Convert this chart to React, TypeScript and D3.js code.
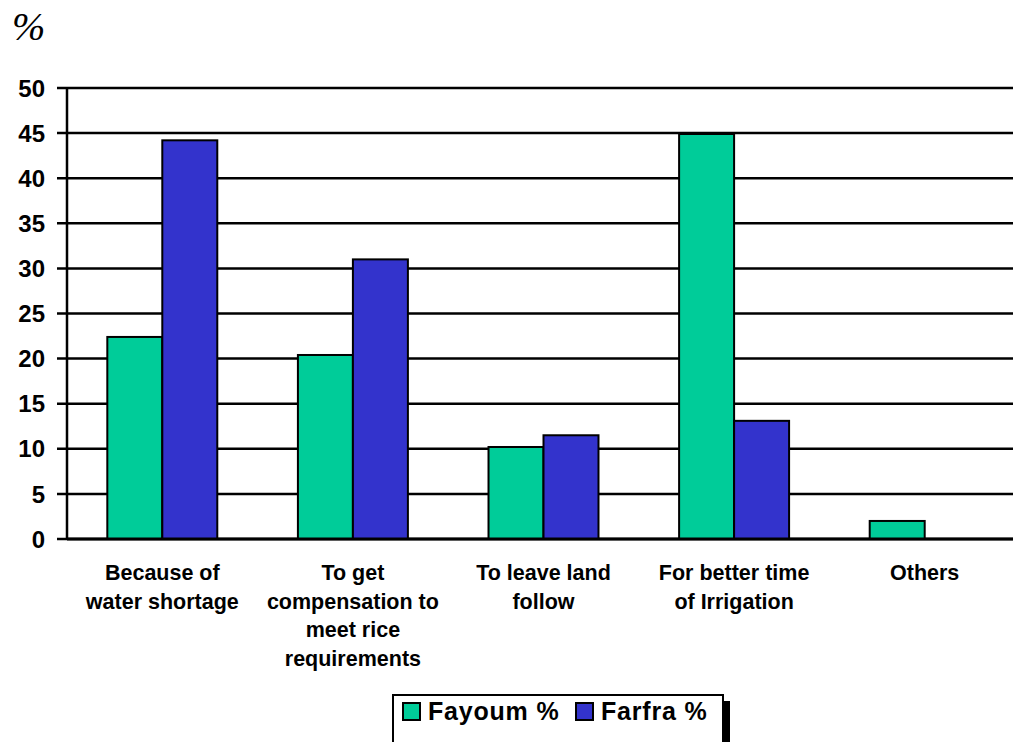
import React from "react";
import * as d3 from "d3";

const categories: string[][] = [
  ["Because of", "water shortage"],
  ["To get", "compensation to", "meet rice", "requirements"],
  ["To leave land", "follow"],
  ["For better time", "of Irrigation"],
  ["Others"],
];
const seriesNames = ["Fayoum %", "Farfra %"];
const fayoum = [22.4, 20.4, 10.2, 44.9, 2.0];
const farfra = [44.2, 31.0, 11.5, 13.1, 0];
const yTicks = [0, 5, 10, 15, 20, 25, 30, 35, 40, 45, 50];
const colors = ["#00CC99", "#3333CC"];

const W = 1013;
const H = 742;
const left = 67;
const right = 1020;
const top = 88;
const bottom = 539;

export default function App() {
  const x = d3
    .scaleBand<number>()
    .domain(categories.map((_, i) => i))
    .range([left, right]);
  const inner = d3
    .scaleBand<number>()
    .domain([0, 1])
    .range([0, x.bandwidth()])
    .paddingOuter(0.733)
    .paddingInner(0);
  const y = d3.scaleLinear().domain([0, 50]).range([bottom, top]);
  const series = [fayoum, farfra];
  const font = "'Liberation Sans', Arial, sans-serif";

  return (
    <svg
      width={W}
      height={H}
      style={{ position: "absolute", left: 0, top: 0 }}
      fontFamily={font}
    >
      <rect width={W} height={H} fill="#fff" />
      <text
        x={12}
        y={40}
        fontFamily="'Liberation Serif', 'Times New Roman', serif"
        fontStyle="italic"
        fontSize={40}
      >
        %
      </text>
      {yTicks.map((t) => (
        <g key={t}>
          <line
            x1={57}
            x2={W + 10}
            y1={y(t)}
            y2={y(t)}
            stroke="#000"
            strokeWidth={2.5}
          />
          <text
            x={45}
            y={y(t)}
            dy="0.36em"
            textAnchor="end"
            fontWeight="bold"
            fontSize={24}
          >
            {t}
          </text>
        </g>
      ))}
      <line x1={left} x2={left} y1={top} y2={bottom} stroke="#000" strokeWidth={2.5} />
      {categories.map((_, i) =>
        series.map((s, j) =>
          s[i] > 0 ? (
            <rect
              key={`${i}-${j}`}
              x={(x(i) as number) + (inner(j) as number)}
              y={y(s[i])}
              width={inner.bandwidth()}
              height={y(0) - y(s[i])}
              fill={colors[j]}
              stroke="#000"
              strokeWidth={2}
            />
          ) : null
        )
      )}
      <line x1={left} x2={W + 10} y1={bottom} y2={bottom} stroke="#000" strokeWidth={3} />
      {categories.map((lines, i) => (
        <text
          key={i}
          x={(x(i) as number) + x.bandwidth() / 2}
          y={580}
          textAnchor="middle"
          fontWeight="bold"
          fontSize={21.5}
        >
          {lines.map((l, k) => (
            <tspan key={k} x={(x(i) as number) + x.bandwidth() / 2} dy={k === 0 ? 0 : 28.7}>
              {l}
            </tspan>
          ))}
        </text>
      ))}
      {/* legend */}
      <rect x={723} y={701} width={7} height={45} fill="#000" />
      <rect x={393} y={695} width={330} height={52} fill="#fff" stroke="#000" strokeWidth={2} />
      {seriesNames.map((n, j) => {
        const sx = j === 0 ? 403 : 576;
        return (
          <g key={n}>
            <rect x={sx} y={703} width={17} height={17} fill={colors[j]} stroke="#000" strokeWidth={2} />
            <text x={sx + 25} y={720} fontWeight="bold" fontSize={25} letterSpacing={0.8}>
              {n}
            </text>
          </g>
        );
      })}
    </svg>
  );
}
